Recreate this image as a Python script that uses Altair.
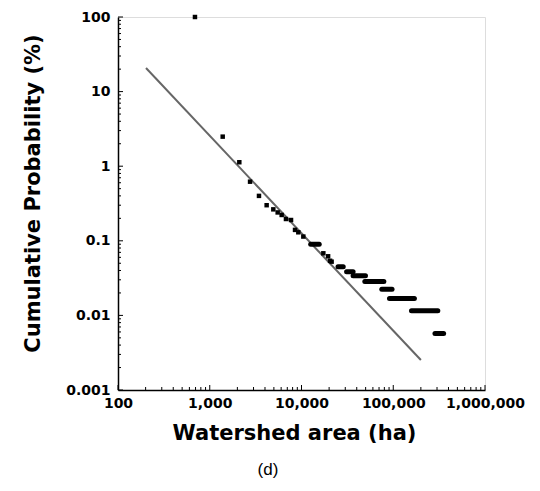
import altair as alt
import pandas as pd

# Individual observed points (watershed area ha, cumulative probability %)
pt_area = [690, 1384, 2100, 2750, 3440, 4170, 4930, 5500, 6080, 6770, 7690,
           8500, 9230, 10470, 17300, 19500, 20500, 21300]
pt_prob = [100, 2.49, 1.13, 0.62, 0.40, 0.30, 0.264, 0.24, 0.222, 0.196, 0.19,
           0.14, 0.13, 0.114, 0.068, 0.062, 0.054, 0.0525]

# Runs of tied points (horizontal streaks): start area, end area, probability
run_start = [12600, 25000, 31000, 36500, 49000, 75000, 91000, 158000, 285000]
run_end = [15600, 28500, 36500, 49800, 79000, 97000, 170000, 306000, 354000]
run_prob = [0.09, 0.045, 0.0386, 0.034, 0.0284, 0.0224, 0.0169, 0.0115, 0.0057]

# Fitted power-law line endpoints
fit_area = [202, 200000]
fit_prob = [20.7, 0.00252]

x_ticks = [100, 1000, 10000, 100000, 1000000]
y_ticks = [0.001, 0.01, 0.1, 1, 10, 100]

W, H = 367, 373

pts = pd.DataFrame({"area": pt_area, "prob": pt_prob})
runs = pd.DataFrame({"a1": run_start, "a2": run_end, "prob": run_prob})
fit = pd.DataFrame({"area": fit_area, "prob": fit_prob})

minor_x = pd.DataFrame({"v": [m * d for d in x_ticks[:-1] for m in range(2, 10)]})
minor_y = pd.DataFrame({"v": [m * d for d in y_ticks[:-1] for m in range(2, 10)]})
major_x = pd.DataFrame({"v": x_ticks})
major_y = pd.DataFrame({"v": y_ticks})

xs = alt.Scale(type="log", domain=[100, 1000000], nice=False)
ys = alt.Scale(type="log", domain=[0.001, 100], nice=False)

FONT = "DejaVu Sans"

xaxis = alt.Axis(values=x_ticks, format=",", title="Watershed area (ha)",
                 labelFont=FONT, labelFontWeight="bold", labelFontSize=14,
                 labelColor="black", labelPadding=6, tickSize=0, grid=False,
                 domainColor="black", domainWidth=1.5,
                 titleFont=FONT, titleFontWeight="bold", titleFontSize=21,
                 titleColor="black", titleX=176, titleY=43,
                 titleAlign="center", titleBaseline="middle",
                 labelFlush=False, labelOverlap=False)
yaxis = alt.Axis(values=y_ticks, format="~g", title="Cumulative Probability (%)",
                 labelFont=FONT, labelFontWeight="bold", labelFontSize=14,
                 labelColor="black", labelPadding=8, tickSize=0, grid=False,
                 domainColor="black", domainWidth=1.5,
                 titleFont=FONT, titleFontWeight="bold", titleFontSize=21,
                 titleColor="black", titleX=-85, titleY=176, titleAngle=270,
                 titleAlign="center", titleBaseline="middle",
                 labelFlush=False, labelOverlap=False)

base_pts = alt.Chart(pts).mark_square(size=20, color="black", opacity=1, clip=False).encode(
    x=alt.X("area:Q", scale=xs, axis=xaxis),
    y=alt.Y("prob:Q", scale=ys, axis=yaxis),
)

run_layer = alt.Chart(runs).mark_rule(strokeWidth=5, strokeCap="round", color="black").encode(
    x=alt.X("a1:Q", scale=xs), x2="a2:Q", y=alt.Y("prob:Q", scale=ys)
)

fit_layer = alt.Chart(fit).mark_line(color="#666666", strokeWidth=2).encode(
    x=alt.X("area:Q", scale=xs), y=alt.Y("prob:Q", scale=ys)
)

mx = alt.Chart(minor_x).mark_rule(color="black", strokeWidth=1).encode(
    x=alt.X("v:Q", scale=xs), y=alt.value(H), y2=alt.value(H - 3))
my = alt.Chart(minor_y).mark_rule(color="black", strokeWidth=1).encode(
    y=alt.Y("v:Q", scale=ys), x=alt.value(0), x2=alt.value(3))
Mx = alt.Chart(major_x).mark_rule(color="black", strokeWidth=1).encode(
    x=alt.X("v:Q", scale=xs), y=alt.value(H), y2=alt.value(H - 5))
My = alt.Chart(major_y).mark_rule(color="black", strokeWidth=1).encode(
    y=alt.Y("v:Q", scale=ys), x=alt.value(0), x2=alt.value(5))

caption = alt.Chart(pd.DataFrame({"t": ["(d)"]})).mark_text(
    font="Liberation Sans", fontSize=17, color="black", align="center", baseline="middle"
).encode(text="t:N", x=alt.value(150), y=alt.value(453))

chart = alt.layer(fit_layer, run_layer, base_pts, mx, my, Mx, My, caption).properties(
    width=W, height=H,
    autosize=alt.AutoSizeParams(type="none"),
    padding={"left": 118, "top": 17, "right": 55, "bottom": 101},
).configure_view(stroke="#333333", strokeWidth=2).configure(background="white")

chart.save("out.html", embed_options={"renderer": "svg", "actions": False})
